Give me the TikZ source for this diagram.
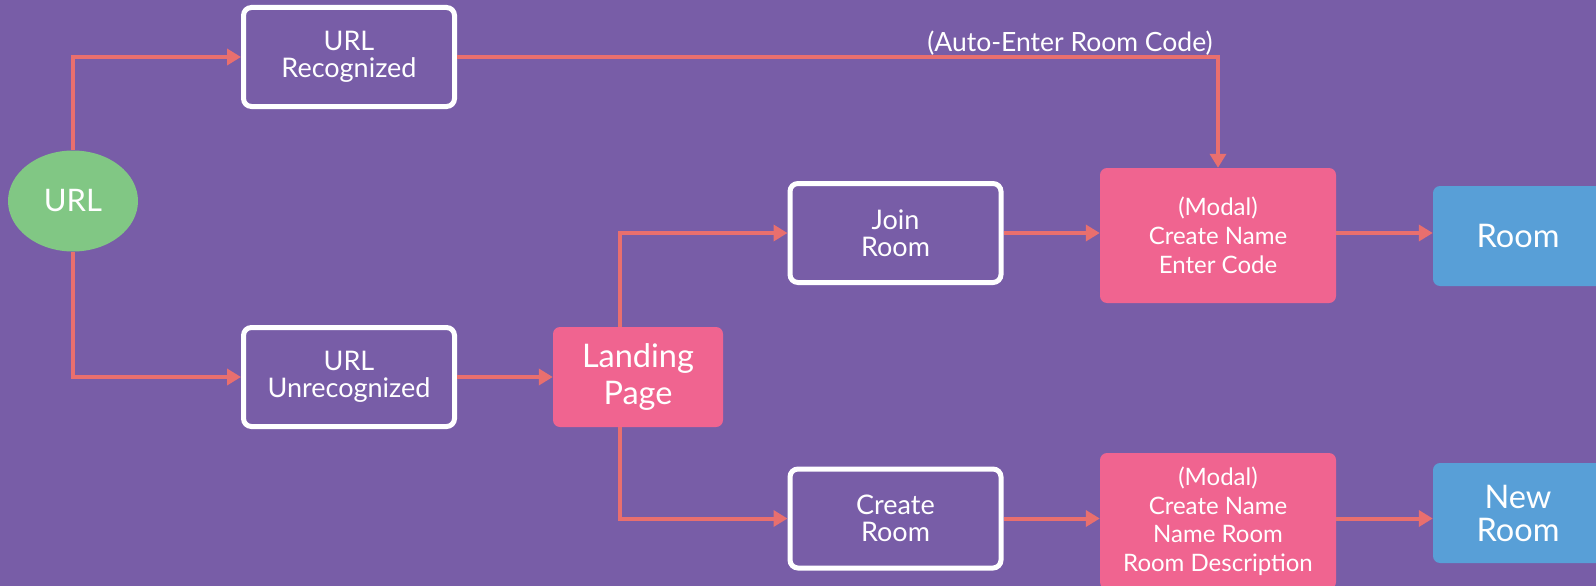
\documentclass[tikz,border=0pt]{standalone}
\usepackage{fontspec}
\setmainfont{Lato}
\usetikzlibrary{arrows.meta,shapes.geometric}
\definecolor{bgpurple}{HTML}{785DA7}
\definecolor{flowred}{HTML}{E96F6E}
\definecolor{boxpink}{HTML}{F06490}
\definecolor{urlgreen}{HTML}{81C784}
\definecolor{roomblue}{HTML}{589FD7}
\tikzset{
	outlinebox/.style={draw=white, line width=5pt, rounded corners=8pt, minimum width=211pt,
		minimum height=99pt, align=center, text=white, font=\fontsize{27}{27}\selectfont},
	pinkbox/.style={fill=boxpink, rounded corners=7pt, align=center, text=white, inner sep=0pt},
	bluebox/.style={fill=roomblue, rounded corners=7pt, align=center, text=white, inner sep=0pt,
		minimum width=170pt, minimum height=100pt, font=\fontsize{32.5}{33}\selectfont},
	flow/.style={draw=flowred, line width=4pt, -{Triangle[length=14pt,width=16pt]}}
}

\begin{document}
\begin{tikzpicture}[x=1pt,y=-1pt]
	\fill[bgpurple] (0,0) rectangle (1596,586);
	\useasboundingbox (0,0) rectangle (1596,586);
	% entry point
	\node[ellipse, fill=urlgreen, text=white, minimum width=130pt, minimum height=101pt,
		font=\fontsize{31}{32}\selectfont] (url) at (73,201) {URL};
	\node[outlinebox] (recog) at (349,57) {URL\\Recognized};
	\node[outlinebox] (unrecog) at (349,377) {URL\\Unrecognized};
	\node[pinkbox, minimum width=170pt, minimum height=100pt,
		font=\fontsize{32.5}{37}\selectfont] (landing) at (638,377) {Landing\\Page};
	\node[outlinebox] (join) at (895.5,233) {Join\\Room};
	\node[outlinebox] (create) at (895.5,518.5) {Create\\Room};
	% modals
	\node[pinkbox, minimum width=236pt, minimum height=135pt,
		font=\fontsize{24}{29}\selectfont] (modaljoin) at (1218,235.5) {(Modal)\\Create Name\\Enter Code};
	\node[pinkbox, minimum width=236pt, minimum height=136pt,
		font=\fontsize{24}{28.5}\selectfont] (modalcreate) at (1218,521) {(Modal)\\Create Name\\Name Room\\Room Description};
	\node[bluebox] (room) at (1518,236) {Room};
	\node[bluebox] (newroom) at (1518,513) {New\\Room};
	\node[text=white, font=\fontsize{26.5}{27}\selectfont] (autolbl) at (1070,43) {(Auto-Enter Room Code)};
	% connectors
	\draw[flow] (url.north) |- (recog.west);
	\draw[flow] (url.south) |- (unrecog.west);
	\draw[flow] (unrecog) -- (landing);
	\draw[flow] ([xshift=-18pt]landing.north) |- (join.west);
	\draw[flow] ([xshift=-18pt]landing.south) |- (create.west);
	\draw[flow] (join.east) -- (join.east -| modaljoin.west);
	\draw[flow] (modaljoin.east |- join.east) -- (modaljoin.east |- join.east -| room.west);
	\draw[flow] (recog.east) -| (modaljoin.north);
	\draw[flow] (create.east) -- (create.east -| modalcreate.west);
	\draw[flow] (modalcreate.east |- create.east) -- (modalcreate.east |- create.east -| newroom.west);
\end{tikzpicture}
\end{document}
